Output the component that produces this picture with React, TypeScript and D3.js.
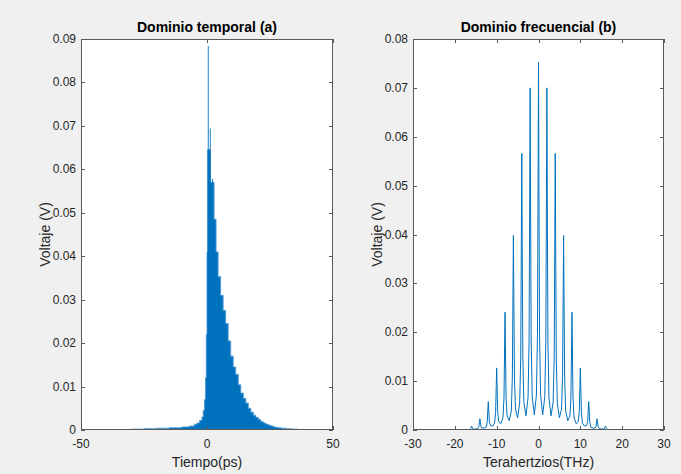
import React from "react";
import * as d3 from "d3";

// ---------- data ----------
// Time domain: stepped envelope of the dense pulse train (ps, V)
const timeEnvelope: [number, number][] = [
  [-50, 0.0001], [-40, 0.0001], [-30, 0.0002], [-25, 0.0003], [-20, 0.0004],
  [-15, 0.0005], [-10, 0.0007], [-7, 0.0009], [-5, 0.0013], [-4, 0.0016],
  [-3, 0.0022], [-2, 0.003], [-1.5, 0.0045], [-1, 0.007], [-0.6, 0.012],
  [-0.3, 0.022], [0, 0.041], [0.2, 0.0645], [1.4, 0.057], [2.8, 0.0485],
  [3.6, 0.041], [4.4, 0.0353], [5.4, 0.031], [6.4, 0.0275], [7.4, 0.0245],
  [8.4, 0.0205], [9.4, 0.017], [10.4, 0.0145], [11.4, 0.0128], [12.4, 0.0104],
  [13.4, 0.0085], [14.4, 0.0073], [15.4, 0.0062], [16.4, 0.005], [17.4, 0.0041],
  [18.4, 0.0034], [19.4, 0.0029], [20.4, 0.0024], [21.4, 0.0019], [22.4, 0.0016],
  [23.4, 0.0013], [24.4, 0.0011], [25.4, 0.0009], [26.4, 0.0007], [27.4, 0.0006],
  [28.4, 0.0005], [29.4, 0.0004], [30.4, 0.0004], [31.4, 0.0003], [32.4, 0.0003],
  [33.4, 0.0002], [34.4, 0.0002], [36, 0.0001], [40, 0.0001], [50, 0.0001],
];
// Narrow spikes rising above the envelope (ps, V)
const spikeTimes = [0.5, 1.3, 2.2];
const spikeVolts = [0.0884, 0.0694, 0.0578];

// Frequency domain: comb spectrum (THz, V)
const spectrum: [number, number][] = [
  [-30, 0], [-20, 0], [-18, 0.00003], [-17, 0.00005],
  [-16.5, 0.0001], [-16.25, 0.0003], [-16.1, 0.0006], [-16, 0.0008], [-15.9, 0.0006], [-15.75, 0.0003], [-15.5, 0.0002],
  [-15, 0.0002],
  [-14.5, 0.0003], [-14.25, 0.0007], [-14.1, 0.0017], [-14, 0.0023], [-13.9, 0.0017], [-13.75, 0.0007], [-13.5, 0.0004],
  [-13, 0.0004],
  [-12.5, 0.0006], [-12.25, 0.0017], [-12.1, 0.0043], [-12, 0.0058], [-11.9, 0.0043], [-11.75, 0.0017], [-11.5, 0.0009],
  [-11, 0.0008],
  [-10.5, 0.0014], [-10.25, 0.0036], [-10.1, 0.0091], [-10, 0.0127], [-9.9, 0.0091], [-9.75, 0.0036], [-9.5, 0.0017],
  [-9, 0.0013],
  [-8.5, 0.0025], [-8.25, 0.0066], [-8.1, 0.017], [-8, 0.0241], [-7.9, 0.017], [-7.75, 0.0066], [-7.5, 0.0028],
  [-7, 0.0019],
  [-6.5, 0.0039], [-6.25, 0.0107], [-6.1, 0.0277], [-6, 0.0398], [-5.9, 0.0277], [-5.75, 0.0107], [-5.5, 0.0043],
  [-5, 0.0025],
  [-4.5, 0.0055], [-4.25, 0.0149], [-4.1, 0.039], [-4, 0.0566], [-3.9, 0.039], [-3.75, 0.0149], [-3.5, 0.0057],
  [-3, 0.0029],
  [-2.5, 0.0066], [-2.25, 0.0182], [-2.1, 0.0479], [-2, 0.07], [-1.9, 0.0479], [-1.75, 0.0182], [-1.5, 0.0068],
  [-1, 0.0031],
  [-0.5, 0.0072], [-0.25, 0.0195], [-0.1, 0.0514], [0, 0.0752], [0.1, 0.0514], [0.25, 0.0195], [0.5, 0.0072],
  [1, 0.0031],
  [1.5, 0.0068], [1.75, 0.0182], [1.9, 0.0479], [2, 0.07], [2.1, 0.0479], [2.25, 0.0182], [2.5, 0.0066],
  [3, 0.0029],
  [3.5, 0.0057], [3.75, 0.0149], [3.9, 0.039], [4, 0.0566], [4.1, 0.039], [4.25, 0.0149], [4.5, 0.0055],
  [5, 0.0025],
  [5.5, 0.0043], [5.75, 0.0107], [5.9, 0.0277], [6, 0.0398], [6.1, 0.0277], [6.25, 0.0107], [6.5, 0.0039],
  [7, 0.0019],
  [7.5, 0.0028], [7.75, 0.0066], [7.9, 0.017], [8, 0.0241], [8.1, 0.017], [8.25, 0.0066], [8.5, 0.0025],
  [9, 0.0013],
  [9.5, 0.0017], [9.75, 0.0036], [9.9, 0.0091], [10, 0.0127], [10.1, 0.0091], [10.25, 0.0036], [10.5, 0.0014],
  [11, 0.0008],
  [11.5, 0.0009], [11.75, 0.0017], [11.9, 0.0043], [12, 0.0058], [12.1, 0.0043], [12.25, 0.0017], [12.5, 0.0006],
  [13, 0.0004],
  [13.5, 0.0004], [13.75, 0.0007], [13.9, 0.0017], [14, 0.0023], [14.1, 0.0017], [14.25, 0.0007], [14.5, 0.0003],
  [15, 0.0002],
  [15.5, 0.0002], [15.75, 0.0003], [15.9, 0.0006], [16, 0.0008], [16.1, 0.0006], [16.25, 0.0003], [16.5, 0.0001],
  [17, 0.00005], [18, 0.00003], [20, 0], [30, 0],
];

const leftXTicks = [-50, 0, 50];
const leftYTicks = [0, 0.01, 0.02, 0.03, 0.04, 0.05, 0.06, 0.07, 0.08, 0.09];
const rightXTicks = [-30, -20, -10, 0, 10, 20, 30];
const rightYTicks = [0, 0.01, 0.02, 0.03, 0.04, 0.05, 0.06, 0.07, 0.08];

const titleLeft = "Dominio temporal (a)";
const titleRight = "Dominio frecuencial (b)";
const xLabelLeft = "Tiempo(ps)";
const xLabelRight = "Terahertzios(THz)";
const yLabel = "Voltaje (V)";

// ---------- layout ----------
const W = 681;
const H = 474;
const TOP = 39;
const BOTTOM = 430;
const FONT = "'Liberation Sans', Arial, Helvetica, sans-serif";
const TEXT = "#262626";
const BOX = "#5a5a5a";
const BLUE = "#0072BD";

const fmt = (v: number) => String(+v.toFixed(2));

type PanelProps = {
  id: string;
  x0: number;
  x1: number;
  xDomain: [number, number];
  yDomain: [number, number];
  xTicks: number[];
  yTicks: number[];
  title: string;
  xLabel: string;
  children: (x: d3.ScaleLinear<number, number>, y: d3.ScaleLinear<number, number>) => React.ReactNode;
};

function Panel({ id, x0, x1, xDomain, yDomain, xTicks, yTicks, title, xLabel, children }: PanelProps) {
  const x = d3.scaleLinear().domain(xDomain).range([x0, x1]);
  const y = d3.scaleLinear().domain(yDomain).range([BOTTOM, TOP]);
  const cx = (x0 + x1) / 2;
  const tl = 4;
  return (
    <g>
      <rect x={x0} y={TOP} width={x1 - x0} height={BOTTOM - TOP} fill="#ffffff" />
      <clipPath id={id}>
        <rect x={x0} y={TOP} width={x1 - x0} height={BOTTOM - TOP} />
      </clipPath>
      <g clipPath={`url(#${id})`}>{children(x, y)}</g>
      {/* box */}
      <rect
        x={x0 + 0.5}
        y={TOP + 0.5}
        width={x1 - x0 - 1}
        height={BOTTOM - TOP - 1}
        fill="none"
        stroke={BOX}
        strokeWidth={1}
        shapeRendering="crispEdges"
      />
      {/* x ticks */}
      {xTicks.map((t) => {
        const px = Math.round(x(t)) + 0.5;
        return (
          <g key={`xt${t}`}>
            <line x1={px} x2={px} y1={BOTTOM} y2={BOTTOM - tl} stroke={BOX} shapeRendering="crispEdges" />
            <line x1={px} x2={px} y1={TOP} y2={TOP + tl} stroke={BOX} shapeRendering="crispEdges" />
            <text x={x(t)} y={448} textAnchor="middle" fontSize={12} fill={TEXT} fontFamily={FONT}>
              {fmt(t)}
            </text>
          </g>
        );
      })}
      {/* y ticks */}
      {yTicks.map((t) => {
        const py = Math.round(y(t)) + 0.5;
        return (
          <g key={`yt${t}`}>
            <line x1={x0} x2={x0 + tl} y1={py} y2={py} stroke={BOX} shapeRendering="crispEdges" />
            <line x1={x1} x2={x1 - tl} y1={py} y2={py} stroke={BOX} shapeRendering="crispEdges" />
            <text x={x0 - 5} y={y(t) + 4} textAnchor="end" fontSize={12} fill={TEXT} fontFamily={FONT}>
              {fmt(t)}
            </text>
          </g>
        );
      })}
      <text x={cx} y={32} textAnchor="middle" fontSize={14} fontWeight="bold" fill="#000" fontFamily={FONT}>
        {title}
      </text>
      <text x={cx} y={467} textAnchor="middle" fontSize={14} fill={TEXT} fontFamily={FONT}>
        {xLabel}
      </text>
      <text
        transform={`translate(${x0 - 31},${(TOP + BOTTOM) / 2}) rotate(-90)`}
        textAnchor="middle"
        fontSize={14}
        fill={TEXT}
        fontFamily={FONT}
      >
        {yLabel}
      </text>
    </g>
  );
}

export default function App() {
  return (
    <svg
      width={W}
      height={H}
      viewBox={`0 0 ${W} ${H}`}
      style={{ position: "absolute", left: 0, top: 0, display: "block" }}
    >
      <rect x={0} y={0} width={W} height={H} fill="#f0f0f0" />
      <Panel
        id="clipL"
        x0={81}
        x1={333}
        xDomain={[-50, 50]}
        yDomain={[0, 0.09]}
        xTicks={leftXTicks}
        yTicks={leftYTicks}
        title={titleLeft}
        xLabel={xLabelLeft}
      >
        {(x, y) => {
          const area = d3
            .area<[number, number]>()
            .x((d) => x(d[0]))
            .y0(y(0))
            .y1((d) => y(d[1]))
            .curve(d3.curveStepAfter);
          const line = d3
            .line<[number, number]>()
            .x((d) => x(d[0]))
            .y((d) => y(d[1]))
            .curve(d3.curveStepAfter);
          return (
            <g>
              <path d={area(timeEnvelope) || ""} fill={BLUE} />
              <path d={line(timeEnvelope) || ""} fill="none" stroke="#4d9ad6" strokeWidth={0.9} />
              {spikeTimes.map((t, i) => (
                <line
                  key={i}
                  x1={x(t)}
                  x2={x(t)}
                  y1={y(0)}
                  y2={y(spikeVolts[i])}
                  stroke={BLUE}
                  strokeWidth={0.9}
                />
              ))}
            </g>
          );
        }}
      </Panel>
      <Panel
        id="clipR"
        x0={413}
        x1={664}
        xDomain={[-30, 30]}
        yDomain={[0, 0.08]}
        xTicks={rightXTicks}
        yTicks={rightYTicks}
        title={titleRight}
        xLabel={xLabelRight}
      >
        {(x, y) => {
          const line = d3
            .line<[number, number]>()
            .x((d) => x(d[0]))
            .y((d) => y(d[1]))
            .curve(d3.curveLinear);
          return <path d={line(spectrum) || ""} fill="none" stroke={BLUE} strokeWidth={1} strokeLinejoin="round" />;
        }}
      </Panel>
    </svg>
  );
}
